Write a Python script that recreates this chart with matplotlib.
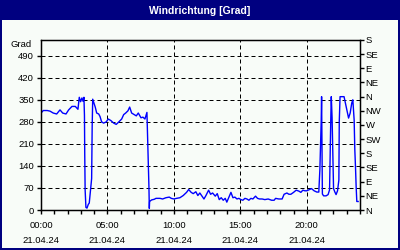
import matplotlib
matplotlib.use("Agg")
import matplotlib.pyplot as plt
from matplotlib.patches import Rectangle

# --- data (hours since 00:00, direction in degrees) ---
hours = [
    0.00, 0.08, 0.17, 0.30, 0.47, 0.68, 0.92, 1.18, 1.28, 1.43, 1.63, 1.88, 2.08, 2.33,
    2.58, 2.78, 2.88, 2.98, 3.08, 3.17, 3.23, 3.27, 3.29, 3.32, 3.38, 3.46, 3.56, 3.63,
    3.81, 3.85, 3.89, 3.98, 4.08, 4.19, 4.34, 4.44, 4.56, 4.71, 4.91, 5.06, 5.26, 5.47,
    5.66, 5.86, 6.07, 6.22, 6.37, 6.54, 6.67, 6.82, 7.02, 7.17, 7.32, 7.52, 7.67, 7.82,
    7.97, 8.02, 8.08, 8.12, 8.15, 8.17, 8.32, 8.52, 8.65, 8.95, 9.15, 9.40, 9.65, 9.80,
    10.00, 10.20, 10.45, 10.70, 10.95, 11.11, 11.30, 11.45, 11.65, 11.80, 11.95, 12.11,
    12.26, 12.41, 12.61, 12.76, 12.91, 13.11, 13.26, 13.41, 13.56, 13.71, 13.86, 13.98,
    14.19, 14.29, 14.44, 14.59, 14.74, 14.89, 15.04, 15.19, 15.34, 15.49, 15.64, 15.79,
    15.94, 16.14, 16.29, 16.44, 16.64, 16.84, 17.09, 17.35, 17.54, 17.65, 17.89, 18.14,
    18.29, 18.50, 18.65, 18.80, 19.00, 19.20, 19.40, 19.55, 19.70, 19.85, 20.00, 20.15,
    20.35, 20.55, 20.75, 20.90, 20.98, 21.08, 21.11, 21.17, 21.26, 21.45, 21.60, 21.71,
    21.80, 21.84, 21.90, 22.01, 22.11, 22.20, 22.31, 22.41, 22.44, 22.50, 22.65, 22.80,
    22.93, 23.01, 23.14, 23.26, 23.38, 23.46, 23.56, 23.61, 23.66, 23.71, 23.76, 23.86,
]
direction = [
    308, 312, 316, 316, 316, 314, 308, 305, 310, 318, 308, 305, 318, 329,
    329, 320, 358, 344, 356, 345, 358, 300, 180, 64, 8, 6, 18, 22,
    100, 265, 352, 340, 327, 308, 305, 297, 280, 276, 280, 289, 284, 276,
    272, 280, 289, 303, 308, 315, 327, 308, 303, 299, 308, 293, 295, 289,
    310, 233, 138, 74, 5, 27, 32, 34, 37, 37, 35, 39, 41, 37,
    35, 37, 39, 46, 56, 65, 56, 52, 58, 46, 54, 44,
    35, 46, 63, 50, 54, 44, 52, 33, 39, 31, 37, 25,
    46, 56, 39, 41, 35, 37, 33, 31, 37, 35, 31, 37,
    35, 44, 37, 35, 35, 33, 35, 31, 31, 37, 35, 35,
    50, 54, 50, 50, 56, 63, 60, 56, 63, 61, 61, 64,
    68, 61, 57, 57, 127, 281, 360, 51, 45, 45, 49, 64,
    286, 360, 293, 68, 57, 49, 61, 95, 281, 360, 360, 360,
    334, 318, 292, 308, 340, 350, 286, 191, 138, 74, 27, 27,
]

title = "Windrichtung [Grad]"
unit = "Grad"
x_ticks = [0, 5, 10, 15, 20]
x_labels = ["00:00\n21.04.24", "05:00\n21.04.24", "10:00\n21.04.24",
            "15:00\n21.04.24", "20:00\n21.04.24"]
y_ticks = [0, 70, 140, 210, 280, 350, 420, 490]
compass_ticks = [0, 45, 90, 135, 180, 225, 270, 315, 360, 405, 450, 495, 540]
compass_labels = ["N", "NE", "E", "SE", "S", "SW", "W", "NW", "N", "NE", "E", "SE", "S"]

navy = "#000080"
bg = "#f8fcf8"

plt.rcParams["font.family"] = ["Liberation Sans", "DejaVu Sans"]
plt.rcParams["font.size"] = 6.8

fig = plt.figure(figsize=(4, 2.5), dpi=100, facecolor=bg)

# navy frame + title bar
for x, y, w, h in [(0, 230 / 250, 1, 20 / 250), (0, 0, 2 / 400, 1),
                   (398 / 400, 0, 2 / 400, 1), (0, 0, 1, 2 / 250)]:
    fig.patches.append(Rectangle((x, y), w, h, transform=fig.transFigure,
                                 facecolor=navy, edgecolor="none", zorder=0))
fig.text(0.5, 1 - 10.5 / 250, title, color="white", fontweight="bold",
         fontsize=7.5, ha="center", va="center")

ax = fig.add_axes([41 / 400, 40 / 250, 319 / 400, 170 / 250])
ax.set_facecolor(bg)
ax.plot(hours, direction, color="#0000ff", lw=1)

ax.set_xlim(0, 24)
ax.set_ylim(0, 540)
ax.set_xticks(x_ticks)
ax.set_xticklabels(x_labels, linespacing=1.9)
ax.set_xticks(range(0, 25), minor=True)
ax.set_yticks(y_ticks)
ax.tick_params(axis="both", which="both", direction="out", length=3, width=1,
               color="black", pad=2)
ax.tick_params(axis="x", pad=5)
ax.grid(True, color="black", lw=0.72, ls=(0, (4, 3)))
for s in ax.spines.values():
    s.set_linewidth(1)
    s.set_color("black")

ax2 = ax.twinx()
ax2.set_ylim(0, 540)
ax2.set_yticks(compass_ticks)
ax2.set_yticklabels(compass_labels)
ax2.tick_params(axis="y", direction="out", length=3, width=1, pad=1)

fig.text(32 / 400, 1 - 45 / 250, unit, ha="right", va="center")

fig.savefig("out.png", dpi=100, facecolor=bg)
